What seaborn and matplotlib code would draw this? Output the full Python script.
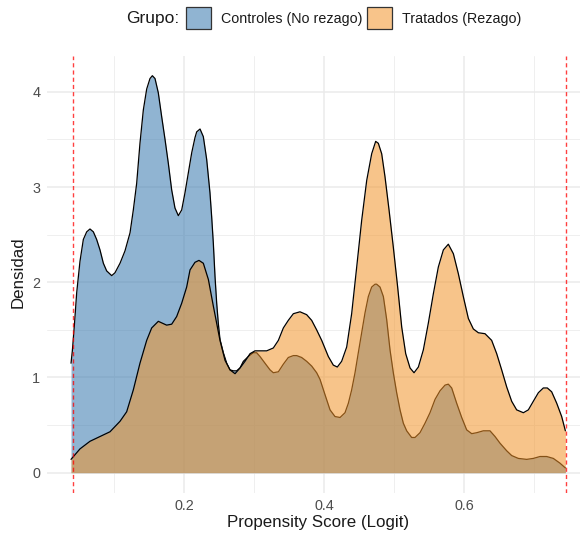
import matplotlib
matplotlib.use("Agg")
import matplotlib.pyplot as plt
from matplotlib.patches import Patch
import seaborn as sns
import pandas as pd

# ---- data ----
ctrl_x = [0.0386, 0.0405, 0.0433, 0.0467, 0.0514, 0.0562, 0.0610, 0.0657, 0.0705, 0.0752,
          0.0800, 0.0848, 0.0895, 0.0967, 0.1014, 0.1086, 0.1157, 0.1229, 0.1276, 0.1324,
          0.1371, 0.1419, 0.1467, 0.1514, 0.1548, 0.1586, 0.1633, 0.1681, 0.1729, 0.1776,
          0.1824, 0.1871, 0.1919, 0.1967, 0.2014, 0.2062, 0.2110, 0.2157, 0.2181, 0.2229,
          0.2276, 0.2324, 0.2371, 0.2395, 0.2419, 0.2443, 0.2467, 0.2490, 0.2514, 0.2562,
          0.2610, 0.2657, 0.2705, 0.2752, 0.2800, 0.2848, 0.2919, 0.2990, 0.3038, 0.3086,
          0.3157, 0.3229, 0.3276, 0.3348, 0.3419, 0.3490, 0.3562, 0.3610, 0.3681, 0.3752,
          0.3824, 0.3895, 0.3943, 0.4014, 0.4086, 0.4157, 0.4229, 0.4300, 0.4348, 0.4395,
          0.4443, 0.4490, 0.4538, 0.4586, 0.4633, 0.4681, 0.4729, 0.4752, 0.4800, 0.4848,
          0.4895, 0.4943, 0.4990, 0.5038, 0.5086, 0.5133, 0.5181, 0.5252, 0.5300, 0.5371,
          0.5443, 0.5514, 0.5586, 0.5657, 0.5729, 0.5776, 0.5824, 0.5895, 0.5967, 0.6038,
          0.6110, 0.6181, 0.6276, 0.6371, 0.6443, 0.6514, 0.6610, 0.6681, 0.6776, 0.6895,
          0.6990, 0.7086, 0.7181, 0.7276, 0.7371, 0.7448]
ctrl_y = [1.15, 1.28, 1.54, 1.89, 2.22, 2.45, 2.53, 2.56, 2.53, 2.45,
          2.34, 2.20, 2.12, 2.07, 2.10, 2.20, 2.33, 2.52, 2.76, 3.04,
          3.46, 3.81, 4.03, 4.14, 4.17, 4.14, 3.99, 3.74, 3.50, 3.25,
          2.97, 2.78, 2.70, 2.76, 2.94, 3.15, 3.36, 3.52, 3.58, 3.61,
          3.53, 3.29, 2.94, 2.69, 2.41, 2.06, 1.78, 1.57, 1.40, 1.26,
          1.15, 1.08, 1.07, 1.07, 1.10, 1.17, 1.22, 1.26, 1.26, 1.22,
          1.15, 1.08, 1.05, 1.06, 1.14, 1.21, 1.23, 1.23, 1.21, 1.17,
          1.12, 1.05, 0.98, 0.82, 0.66, 0.59, 0.58, 0.63, 0.73, 0.87,
          1.05, 1.26, 1.47, 1.68, 1.85, 1.95, 1.98, 1.98, 1.95, 1.85,
          1.61, 1.29, 1.05, 0.84, 0.66, 0.52, 0.44, 0.37, 0.37, 0.42,
          0.52, 0.63, 0.77, 0.86, 0.92, 0.93, 0.89, 0.73, 0.58, 0.45,
          0.41, 0.42, 0.44, 0.44, 0.38, 0.31, 0.23, 0.18, 0.15, 0.14,
          0.15, 0.17, 0.17, 0.15, 0.10, 0.05]

trat_x = [0.0386, 0.0514, 0.0657, 0.0800, 0.0943, 0.1086, 0.1181, 0.1276, 0.1371, 0.1467,
          0.1538, 0.1633, 0.1752, 0.1824, 0.1895, 0.1967, 0.2038, 0.2086, 0.2157, 0.2214,
          0.2276, 0.2348, 0.2419, 0.2514, 0.2586, 0.2657, 0.2729, 0.2800, 0.2871, 0.2943,
          0.3014, 0.3086, 0.3181, 0.3276, 0.3348, 0.3419, 0.3490, 0.3562, 0.3657, 0.3752,
          0.3824, 0.3895, 0.3967, 0.4062, 0.4133, 0.4190, 0.4252, 0.4324, 0.4395, 0.4467,
          0.4538, 0.4610, 0.4681, 0.4738, 0.4776, 0.4824, 0.4871, 0.4929, 0.4990, 0.5052,
          0.5110, 0.5167, 0.5229, 0.5286, 0.5348, 0.5419, 0.5490, 0.5562, 0.5633, 0.5705,
          0.5776, 0.5848, 0.5919, 0.5990, 0.6062, 0.6133, 0.6205, 0.6300, 0.6395, 0.6467,
          0.6538, 0.6610, 0.6681, 0.6752, 0.6848, 0.6919, 0.6990, 0.7062, 0.7133, 0.7190,
          0.7252, 0.7324, 0.7395, 0.7448]
trat_y = [0.14, 0.25, 0.33, 0.38, 0.43, 0.54, 0.64, 0.87, 1.15, 1.39,
          1.52, 1.59, 1.55, 1.56, 1.64, 1.78, 1.95, 2.13, 2.21, 2.23,
          2.20, 2.03, 1.75, 1.39, 1.18, 1.08, 1.04, 1.10, 1.17, 1.25,
          1.28, 1.28, 1.28, 1.31, 1.39, 1.52, 1.60, 1.67, 1.69, 1.66,
          1.60, 1.50, 1.39, 1.22, 1.13, 1.11, 1.17, 1.32, 1.67, 2.16,
          2.65, 3.07, 3.35, 3.48, 3.46, 3.35, 3.11, 2.76, 2.37, 1.95,
          1.53, 1.25, 1.10, 1.05, 1.11, 1.29, 1.57, 1.88, 2.16, 2.34,
          2.40, 2.30, 2.09, 1.85, 1.62, 1.51, 1.47, 1.46, 1.39, 1.25,
          1.08, 0.90, 0.75, 0.66, 0.63, 0.66, 0.75, 0.84, 0.89, 0.89,
          0.85, 0.73, 0.59, 0.44]

grupos = ["Controles (No rezago)", "Tratados (Rezago)"]
soporte = [0.042, 0.745]
x_ticks = [0.2, 0.4, 0.6]
x_tick_labels = ["0.2", "0.4", "0.6"]
y_ticks = [0, 1, 2, 3, 4]

df = pd.concat([
    pd.DataFrame({"ps": ctrl_x, "dens": ctrl_y, "Grupo": grupos[0]}),
    pd.DataFrame({"ps": trat_x, "dens": trat_y, "Grupo": grupos[1]}),
], ignore_index=True)

# ---- style ----
sns.set_theme(style="white")
plt.rcParams["font.family"] = ["Liberation Sans", "DejaVu Sans"]

W, H = 580, 537
fig = plt.figure(figsize=(W / 100, H / 100), dpi=100)
left_px, right_px, top_px, bot_px = 46.7, 590.3, 55.9, 492.5
ax = fig.add_axes([left_px / W, 1 - bot_px / H, (right_px - left_px) / W, (bot_px - top_px) / H])

fill_cols = {grupos[0]: ("#4682B4", 0.6), grupos[1]: ("#F2942A", 0.55)}

z = 2.0
for g in grupos:
    sub = df[df["Grupo"] == g]
    col, a = fill_cols[g]
    ax.fill_between(sub["ps"], 0, sub["dens"], color=col, alpha=a, lw=0, zorder=z)
    sns.lineplot(data=sub, x="ps", y="dens", color="black", lw=0.9, ax=ax,
                 legend=False, zorder=z + 0.1, estimator=None)
    z += 0.2

for s in soporte:
    ax.axvline(s, color="red", alpha=0.75, lw=1.0, linestyle=(0, (3, 2.2)), zorder=4)

ax.set_xlim(0.00386, 0.7804)
ax.set_ylim(-0.208, 4.378)
ax.set_xticks(x_ticks)
ax.set_xticklabels(x_tick_labels)
ax.set_yticks(y_ticks)
ax.set_xticks([0.1, 0.3, 0.5, 0.7], minor=True)
ax.set_yticks([0.5, 1.5, 2.5, 3.5], minor=True)
ax.grid(which="major", color="#EBEBEB", lw=1.1)
ax.grid(which="minor", color="#EFEFEF", lw=0.7)
ax.set_axisbelow(True)
for sp in ax.spines.values():
    sp.set_visible(False)
ax.tick_params(which="both", length=0)
ax.tick_params(axis="x", labelsize=10.4, labelcolor="#4D4D4D", pad=4.5)
ax.tick_params(axis="y", labelsize=10.4, labelcolor="#4D4D4D", pad=4.5)

ax.set_xlabel("Propensity Score (Logit)", fontsize=12.2, color="#1A1A1A")
ax.set_ylabel("Densidad", fontsize=12.2, color="#1A1A1A")
ax.xaxis.set_label_coords(0.5, -0.052)
ax.yaxis.set_label_coords(-0.038, 0.505)

# ---- legend on top ----
fig.text(126 / W, 1 - 18 / H, "Grupo:", fontsize=12.5, color="#1A1A1A", ha="left", va="center")
handles = [Patch(facecolor="#90B4D2", edgecolor="#333333", lw=0.9),
           Patch(facecolor="#F8C48A", edgecolor="#333333", lw=0.9)]
fig.legend(handles, grupos, loc="center left", bbox_to_anchor=(186 / W, 1 - 18 / H),
           ncol=2, frameon=False, fontsize=10.3, handlelength=1.75, handleheight=1.95,
           handletextpad=0.7, columnspacing=0.3, borderpad=0, borderaxespad=0,
           labelcolor="#1A1A1A")

fig.savefig("out.png", dpi=100)
